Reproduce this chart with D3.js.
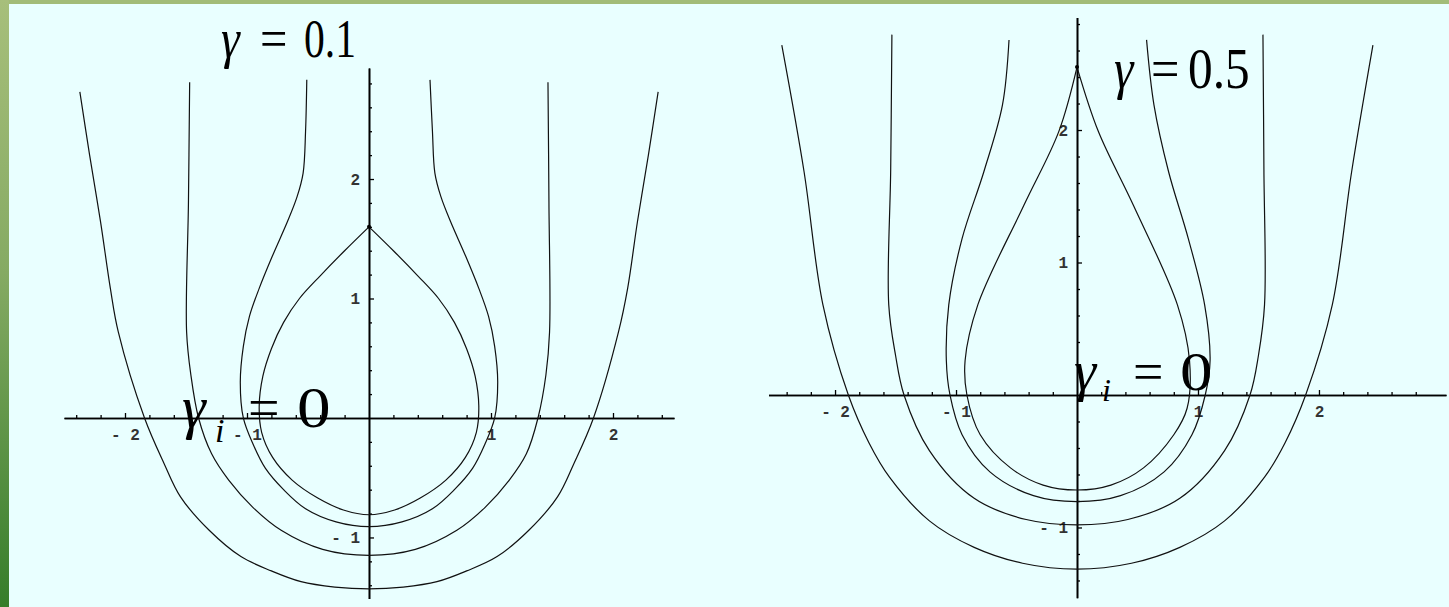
<!DOCTYPE html>
<html>
<head>
<meta charset="utf-8">
<script src="https://cdn.jsdelivr.net/npm/d3@7"></script>
<style>
  html, body { margin: 0; padding: 0; background: #e9ffff; }
  svg { display: block; }
</style>
</head>
<body>
<svg id="chart" width="1449" height="607"></svg>
<script>
// ---- level curves Im(γ) = 0, panel γ = 0.1 (points as [x, y]) ----
const leftOuter = [[-2.37, 2.73], [-2.29, 2.2], [-2.20, 1.64], [-2.12, 1.085], [-2.055, 0.72], [-1.84, 0], [-1.68, -0.38], [-1.545, -0.66], [-1.31, -0.94], [-1.05, -1.16], [-0.80, -1.28], [-0.557, -1.37], [-0.28, -1.415], [0, -1.43], [0.28, -1.415], [0.557, -1.37], [0.80, -1.28], [1.05, -1.16], [1.31, -0.94], [1.545, -0.66], [1.68, -0.38], [1.84, 0], [2.045, 0.72], [2.12, 1.085], [2.20, 1.64], [2.29, 2.2], [2.37, 2.73]];
const leftSecond = [[-1.47, 2.81], [-1.48, 1.8], [-1.495, 0.72], [-1.46, 0.36], [-1.397, 0], [-1.29, -0.3], [-1.15, -0.52], [-0.95, -0.75], [-0.72, -0.94], [-0.38, -1.1], [0, -1.15], [0.38, -1.1], [0.72, -0.94], [0.95, -0.75], [1.15, -0.52], [1.29, -0.3], [1.385, 0], [1.45, 0.36], [1.48, 0.72], [1.475, 1.8], [1.467, 2.81]];
const leftThird = [[-0.51, 2.83], [-0.52, 2.4], [-0.54, 2.05], [-0.59, 1.85], [-0.67, 1.64], [-0.79, 1.36], [-0.90, 1.085], [-0.98, 0.85], [-1.03, 0.6], [-1.055, 0.3], [-1.03, 0], [-0.95, -0.22], [-0.85, -0.42], [-0.70, -0.60], [-0.52, -0.76], [-0.27, -0.87], [0, -0.91], [0.27, -0.87], [0.52, -0.76], [0.70, -0.60], [0.85, -0.42], [0.95, -0.22], [1.03, 0], [1.055, 0.3], [1.03, 0.6], [0.98, 0.85], [0.90, 1.085], [0.79, 1.36], [0.67, 1.64], [0.59, 1.85], [0.54, 2.05], [0.52, 2.4], [0.50, 2.83]];
const leftDrop = [[0, 1.6], [-0.2, 1.40], [-0.40, 1.19], [-0.57, 1.0], [-0.70, 0.8], [-0.80, 0.58], [-0.87, 0.35], [-0.90, 0.1], [-0.88, -0.12], [-0.79, -0.33], [-0.63, -0.52], [-0.42, -0.67], [-0.21, -0.77], [0, -0.81], [0.21, -0.77], [0.42, -0.67], [0.63, -0.52], [0.79, -0.33], [0.88, -0.12], [0.90, 0.1], [0.87, 0.35], [0.80, 0.58], [0.70, 0.8], [0.57, 1.0], [0.40, 1.19], [0.2, 1.40], [0, 1.6]];

// ---- level curves Im(γ) = 0, panel γ = 0.5 ----
const rightOuter = [[-2.44, 2.64], [-2.256, 1.685], [-2.10, 0.68], [-1.89, 0], [-1.72, -0.36], [-1.55, -0.62], [-1.22, -0.95], [-0.85, -1.15], [-0.45, -1.27], [0, -1.315], [0.45, -1.27], [0.85, -1.15], [1.22, -0.95], [1.55, -0.62], [1.72, -0.36], [1.89, 0], [2.11, 0.68], [2.27, 1.685], [2.446, 2.64]];
const rightSecond = [[-1.53, 2.72], [-1.54, 1.7], [-1.556, 0.68], [-1.50, 0.3], [-1.43, 0], [-1.22, -0.42], [-0.85, -0.78], [-0.42, -0.94], [0, -0.98], [0.42, -0.94], [0.85, -0.78], [1.22, -0.42], [1.43, 0], [1.50, 0.3], [1.55, 0.68], [1.545, 1.7], [1.537, 2.72]];
const rightThird = [[-0.562, 2.68], [-0.616, 2.19], [-0.77, 1.685], [-0.95, 1.18], [-1.06, 0.68], [-1.08, 0.26], [-1.05, 0], [-0.95, -0.3], [-0.72, -0.58], [-0.36, -0.76], [0, -0.805], [0.36, -0.76], [0.72, -0.58], [0.95, -0.3], [1.06, 0], [1.10, 0.26], [1.055, 0.68], [0.92, 1.18], [0.757, 1.685], [0.636, 2.19], [0.575, 2.68]];
const rightDrop = [[0, 2.475], [-0.15, 1.99], [-0.44, 1.43], [-0.82, 0.68], [-0.925, 0.26], [-0.91, 0], [-0.8, -0.3], [-0.55, -0.55], [-0.28, -0.68], [0, -0.717], [0.28, -0.68], [0.55, -0.55], [0.8, -0.3], [0.91, -0.1], [0.93, 0.26], [0.83, 0.68], [0.467, 1.43], [0.176, 1.99], [0, 2.475]];

// ---- axis ticks ----
const majorX = [-2, -1, 1, 2];
const majorY = [-1, 1, 2];
const minorStep = 0.2;

const SERIF = "Liberation Serif, Times New Roman, Times, DejaVu Serif, serif";
const MONO = "Liberation Mono, Courier New, Courier, DejaVu Sans Mono, monospace";

const svg = d3.select("#chart");
const W = 1449, H = 607;

// slide frame: green strips along top and left edge
const defs = svg.append("defs");
const grad = defs.append("linearGradient").attr("id", "edge").attr("x1", 0).attr("y1", 0).attr("x2", 0).attr("y2", 1);
grad.append("stop").attr("offset", 0).attr("stop-color", "#a7bf7b");
grad.append("stop").attr("offset", 0.45).attr("stop-color", "#85aa63");
grad.append("stop").attr("offset", 1).attr("stop-color", "#367d2a");
svg.append("rect").attr("width", W).attr("height", H).attr("fill", "#e9ffff");
svg.append("rect").attr("x", 0).attr("y", 0).attr("width", W).attr("height", 4).attr("fill", "#a2bc78");
svg.append("rect").attr("x", 0).attr("y", 0).attr("width", 9).attr("height", H).attr("fill", "url(#edge)");

function minorTicks(lo, hi) {
  const out = [];
  for (let i = Math.ceil(lo / minorStep); i * minorStep <= hi + 1e-9; i++) {
    const v = +(i * minorStep).toFixed(2);
    if (Math.abs(v) > 1e-9 && Math.abs(v - Math.round(v)) > 1e-9) out.push(v);
  }
  return out;
}
const fmt = d => d < 0 ? "- " + Math.abs(d) : String(d);

function panel(xDom, xRange, yDom, yRange, curves) {
  const x = d3.scaleLinear().domain(xDom).range(xRange);
  const y = d3.scaleLinear().domain(yDom).range(yRange);
  const g = svg.append("g");

  // x axis: ticks point up, labels below
  g.append("g").attr("transform", `translate(0,${y(0)})`)
    .call(d3.axisBottom(x).tickValues(minorTicks(xDom[0], xDom[1])).tickSize(-3).tickSizeOuter(0).tickFormat(""));
  g.append("g").attr("transform", `translate(0,${y(0)})`)
    .call(d3.axisBottom(x).tickValues(majorX).tickSize(-5).tickSizeOuter(0).tickPadding(11).tickFormat(fmt));

  // y axis: ticks point right, labels left
  g.append("g").attr("transform", `translate(${x(0)},0)`)
    .call(d3.axisLeft(y).tickValues(minorTicks(yDom[0], yDom[1])).tickSize(-3).tickSizeOuter(0).tickFormat(""));
  g.append("g").attr("transform", `translate(${x(0)},0)`)
    .call(d3.axisLeft(y).tickValues(majorY).tickSize(-5).tickSizeOuter(0).tickPadding(9).tickFormat(fmt));

  g.selectAll("g").attr("font-family", MONO).attr("font-size", 16);
  g.selectAll(".domain").attr("stroke", "#000").attr("stroke-width", 1.6);
  g.selectAll(".tick line").attr("stroke", "#000").attr("stroke-width", 1.3);
  g.selectAll(".tick text")
    .attr("font-family", MONO).attr("font-size", 16).attr("font-weight", "bold")
    .attr("fill", "#333");

  const line = d3.line().x(d => x(d[0])).y(d => y(d[1])).curve(d3.curveCatmullRom.alpha(0.5));
  g.selectAll("path.curve").data(curves).join("path")
    .attr("class", "curve")
    .attr("d", line)
    .attr("fill", "none")
    .attr("stroke", "#111")
    .attr("stroke-width", 1.2);

  // the cusp of the closed loop where both branches meet
  const drop = curves[curves.length - 1];
  g.append("circle").attr("cx", x(drop[0][0])).attr("cy", y(drop[0][1])).attr("r", 2).attr("fill", "#000");
  return g;
}

panel([-2.5, 2.5], [64, 674], [-1.51, 2.93], [598.4, 67.9], [leftOuter, leftSecond, leftThird, leftDrop]);
panel([-2.55, 3.05], [768.5, 1446], [-1.53, 2.85], [597.7, 17.4], [rightOuter, rightSecond, rightThird, rightDrop]);

// equation labels (slightly condensed serif, as typeset on the slide)
function eqText(x, y, txt, size, italic, sx) {
  svg.append("text")
    .attr("transform", `translate(${x},${y}) scale(${sx},1)`)
    .attr("font-family", SERIF)
    .attr("font-size", size)
    .attr("font-style", italic ? "italic" : "normal")
    .attr("fill", "#000")
    .text(txt);
}
// γ = 0.1
eqText(221, 57, "γ", 56, true, 0.85);
eqText(260, 57, "=", 54, false, 0.9);
eqText(304, 57, "0.1", 54, false, 0.77);
// γ = 0.5
eqText(1114, 88, "γ", 58, true, 0.85);
eqText(1151, 88, "=", 56, false, 0.9);
eqText(1188, 88, "0.5", 58, false, 0.85);
// γ_i = 0 (left)
eqText(182, 427, "γ", 60, true, 1.0);
eqText(215, 442, "i", 34, true, 1.0);
eqText(248, 427, "=", 56, false, 1.0);
eqText(297, 427, "0", 56, false, 1.2);
// γ_i = 0 (right)
eqText(1074, 390, "γ", 56, true, 1.0);
eqText(1102, 401, "i", 32, true, 1.0);
eqText(1133, 390, "=", 54, false, 1.0);
eqText(1180, 390, "0", 54, false, 1.2);
</script>
</body>
</html>
